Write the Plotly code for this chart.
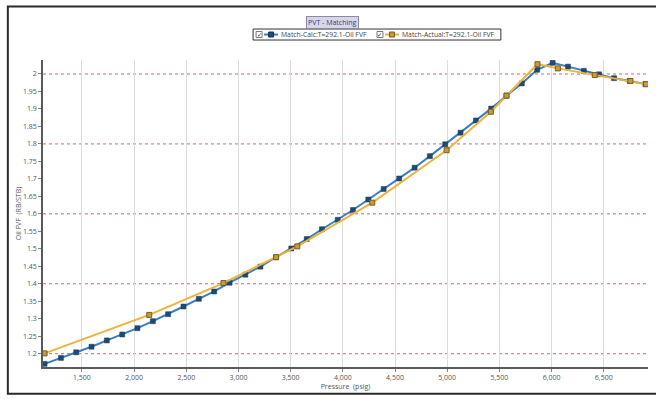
import plotly.graph_objects as go

# Oil formation volume factor vs pressure, T = 292.1
calc_pressure = [1142, 1299, 1445, 1592, 1739, 1886, 2032, 2180, 2326, 2473,
                 2620, 2767, 2915, 3066, 3210, 3360, 3506, 3654, 3800, 3951,
                 4097, 4244, 4391, 4540, 4688, 4834, 4981, 5128, 5275, 5421,
                 5568, 5715, 5862, 6010, 6157, 6309, 6455, 6599, 6749, 6899]
calc_fvf = [1.171, 1.188, 1.204, 1.220, 1.238, 1.255, 1.273, 1.293, 1.313, 1.335,
            1.357, 1.378, 1.403, 1.426, 1.449, 1.476, 1.501, 1.528, 1.556, 1.583,
            1.611, 1.641, 1.671, 1.701, 1.732, 1.765, 1.799, 1.832, 1.867, 1.901,
            1.938, 1.973, 2.012, 2.032, 2.021, 2.009, 1.999, 1.988, 1.980, 1.971]

actual_pressure = [1142, 2145, 2856, 3360, 3564, 4282, 4994, 5418, 5568,
                   5865, 6060, 6414, 6756, 6905]
actual_fvf = [1.201, 1.311, 1.402, 1.476, 1.507, 1.632, 1.782, 1.892, 1.938,
              2.028, 2.016, 1.997, 1.980, 1.971]

series_names = ["Match-Calc:T=292.1-Oil FVF", "Match-Actual:T=292.1-Oil FVF"]

x_tickvals = [1500, 2000, 2500, 3000, 3500, 4000, 4500, 5000, 5500, 6000, 6500]
x_ticktext = ["1,500", "2,000", "2,500", "3,000", "3,500", "4,000", "4,500",
              "5,000", "5,500", "6,000", "6,500"]
y_tickvals = [1.2, 1.25, 1.3, 1.35, 1.4, 1.45, 1.5, 1.55, 1.6, 1.65, 1.7,
              1.75, 1.8, 1.85, 1.9, 1.95, 2.0]
y_ticktext = ["1.2", "1.25", "1.3", "1.35", "1.4", "1.45", "1.5", "1.55", "1.6",
              "1.65", "1.7", "1.75", "1.8", "1.85", "1.9", "1.95", "2"]
major_levels = [1.2, 1.4, 1.6, 1.8, 2.0]

FONT = "Open Sans"
CALC_LINE, CALC_MARK, CALC_EDGE = "#3a7ebf", "#1d4b78", "#16395c"
ACT_LINE, ACT_MARK, ACT_EDGE = "#f0b23a", "#c99a3a", "#7d5c1c"

fig = go.Figure()
fig.add_trace(go.Scatter(
    x=calc_pressure, y=calc_fvf, mode="lines+markers", name=series_names[0],
    line=dict(color=CALC_LINE, width=2),
    marker=dict(symbol="square", size=5, color=CALC_MARK,
                line=dict(color=CALC_EDGE, width=0.5)),
))
fig.add_trace(go.Scatter(
    x=actual_pressure, y=actual_fvf, mode="lines+markers", name=series_names[1],
    line=dict(color=ACT_LINE, width=2),
    marker=dict(symbol="square", size=5, color=ACT_MARK,
                line=dict(color=ACT_EDGE, width=1)),
))

for lvl in major_levels:
    fig.add_hline(y=lvl, line=dict(color="#c46a80", width=1, dash="dot"),
                  layer="below")

# plot area in pixels: x 42.7..648.3, y 60..367.3
W, H = 656, 399
L, R, T, B = 42.7, 648.3, 60.0, 367.3
pw, ph = R - L, B - T


def px(x):
    return (x - L) / pw


def py(y):
    return (B - y) / ph


def paper_rect(x0, y0, x1, y1, **kw):
    fig.add_shape(type="rect", xref="paper", yref="paper",
                  x0=px(x0), x1=px(x1), y0=py(y1), y1=py(y0), **kw)


def paper_line(x0, y0, x1, y1, **kw):
    fig.add_shape(type="line", xref="paper", yref="paper",
                  x0=px(x0), x1=px(x1), y0=py(y0), y1=py(y1), **kw)


def paper_text(x, y, text, xanchor="left", **font):
    fig.add_annotation(xref="paper", yref="paper", x=px(x), y=py(y),
                       text=text, showarrow=False, xanchor=xanchor,
                       yanchor="middle", font=font)


# outer frame
paper_rect(7.5, 6.5, 665, 394, line=dict(color="#2a2a2a", width=2),
           fillcolor="rgba(0,0,0,0)")

# title tag
fig.add_annotation(xref="paper", yref="paper", x=px(332), y=py(22),
                   xanchor="center", yanchor="middle",
                   text="PVT - Matching", showarrow=False,
                   font=dict(family=FONT, size=7, color="#3d3a8c"),
                   bgcolor="#d6d6e4", bordercolor="#8a8aa8", borderwidth=1,
                   borderpad=1)

# legend box with check boxes
paper_rect(253, 29, 501, 40, line=dict(color="#333333", width=1),
           fillcolor="white")
legend_items = [
    (256, series_names[0], CALC_LINE, CALC_MARK, CALC_EDGE),
    (377, series_names[1], ACT_LINE, ACT_MARK, ACT_EDGE),
]
for x0, name, lc, mc, ec in legend_items:
    cy = 34.5
    paper_rect(x0, cy - 3, x0 + 6, cy + 3, line=dict(color="#777777", width=1),
               fillcolor="white")
    paper_text(x0 + 3, cy, "\u2713", xanchor="center",
               family="DejaVu Sans", size=6, color="#222222")
    paper_line(x0 + 8, cy, x0 + 22, cy, line=dict(color=lc, width=2))
    paper_rect(x0 + 12.5, cy - 2.5, x0 + 17.5, cy + 2.5,
               line=dict(color=ec, width=1), fillcolor=mc)
    paper_text(x0 + 23, cy, name, family=FONT, size=6.8, color="#444444")

fig.update_layout(
    width=W, height=H,
    margin=dict(l=L, r=W - R, t=T, b=H - B, pad=0),
    paper_bgcolor="white", plot_bgcolor="white",
    font=dict(family=FONT, size=7, color="#555555"),
    showlegend=False,
    xaxis=dict(
        range=[1127, 6924], tickmode="array", tickvals=x_tickvals,
        ticktext=x_ticktext, showgrid=True, gridcolor="#dcdcdc", gridwidth=1,
        zeroline=False, showline=True, linecolor="#5a5a5a", linewidth=2,
        ticks="outside", ticklen=3, tickcolor="#888888",
        tickfont=dict(family=FONT, size=7, color="#555555"),
        title=dict(text="Pressure  (psig)", standoff=1,
                   font=dict(family=FONT, size=7, color="#555555")),
    ),
    yaxis=dict(
        range=[1.162, 2.04], tickmode="array", tickvals=y_tickvals,
        ticktext=y_ticktext, showgrid=False, zeroline=False,
        showline=True, linecolor="#5a5a5a", linewidth=1.5,
        ticks="outside", ticklen=3, tickcolor="#888888",
        tickfont=dict(family=FONT, size=7, color="#555555"),
        title=dict(text="Oil FVF  (RB/STB)", standoff=0,
                   font=dict(family=FONT, size=7, color="#555555")),
    ),
)

fig.write_html("out.html")
